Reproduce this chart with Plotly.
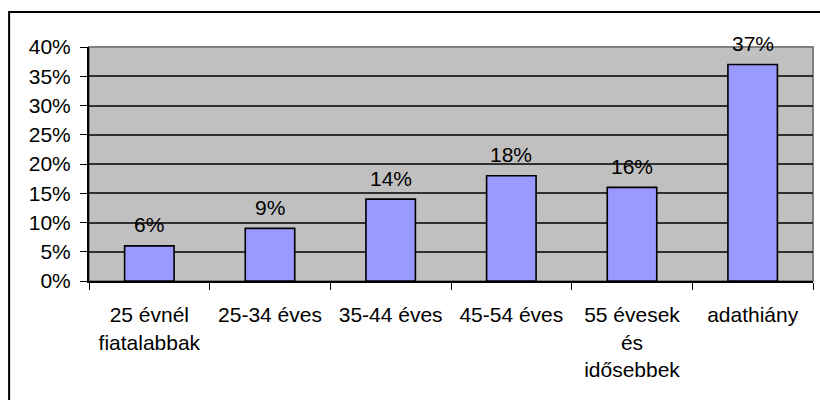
import plotly.graph_objects as go

# Age groups (category labels, with line breaks as laid out under the axis)
categories = [
    "25 évnél<br>fiatalabbak",
    "25-34 éves",
    "35-44 éves",
    "45-54 éves",
    "55 évesek<br>és<br>idősebbek",
    "adathiány",
]
# Share of each group, in percent
shares = [6, 9, 14, 18, 16, 37]
# Y axis ticks
y_ticks = [0, 5, 10, 15, 20, 25, 30, 35, 40]
y_tick_labels = [f"{v}%" for v in y_ticks]

FONT = "Liberation Sans, Arial, sans-serif"
FS = 21

fig = go.Figure()
fig.add_trace(go.Bar(
    x=categories,
    y=shares,
    width=0.41,
    marker=dict(color="#9999FF", line=dict(color="#000000", width=1.6)),
    hoverinfo="x+y",
))

# Value labels above each bar
for c, v in zip(categories, shares):
    fig.add_annotation(
        x=c, y=v, text=f"{v}%", showarrow=False,
        xref="x", yref="y", yanchor="middle", yshift=21,
        font=dict(family=FONT, size=FS, color="#000000"),
    )

# Outer chart frame
fig.add_shape(
    type="rect", xref="paper", yref="paper",
    x0=(9 - 89) / 725, x1=1.2, y0=-0.6, y1=1 + (47 - 12) / 234,
    line=dict(color="#000000", width=2), layer="below",
)
# Plot area frame (grey top/right edges)
fig.add_shape(
    type="rect", xref="paper", yref="paper",
    x0=0, x1=1, y0=0, y1=1,
    line=dict(color="#808080", width=2), layer="below",
)

fig.update_layout(
    width=820, height=400,
    margin=dict(l=89, r=7, t=47, b=119),
    paper_bgcolor="#FFFFFF",
    plot_bgcolor="#C0C0C0",
    showlegend=False,
    bargap=0.59,
    font=dict(family=FONT, size=FS, color="#000000"),
)
fig.update_xaxes(
    type="category",
    showline=True, linecolor="#000000", linewidth=2,
    ticks="outside", ticklen=7, tickcolor="#000000", tickwidth=1,
    tickson="boundaries",
    showgrid=False,
    ticklabelstandoff=14,
    tickfont=dict(family=FONT, size=FS, color="#000000"),
)
fig.update_yaxes(
    range=[0, 40],
    tickvals=y_ticks, ticktext=y_tick_labels,
    showline=True, linecolor="#000000", linewidth=2,
    ticks="outside", ticklen=7, tickcolor="#000000", tickwidth=1,
    showgrid=True, gridcolor="#303030", gridwidth=1.5,
    zeroline=False,
    ticklabelstandoff=5,
    tickfont=dict(family=FONT, size=FS, color="#000000"),
)

fig.write_html("out.html")
